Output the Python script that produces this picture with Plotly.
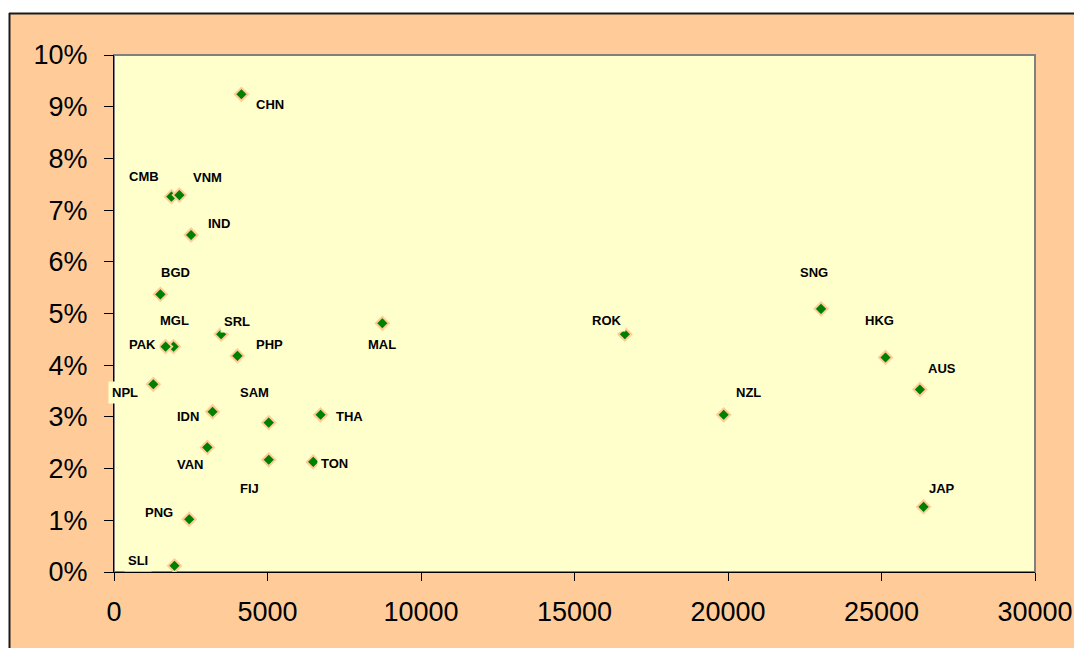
import plotly.graph_objects as go

# ---- data ----
countries = ["CHN", "CMB", "VNM", "IND", "BGD", "MGL", "PAK", "SRL", "PHP", "MAL",
             "NPL", "IDN", "SAM", "THA", "VAN", "FIJ", "TON", "PNG", "SLI",
             "ROK", "SNG", "HKG", "AUS", "NZL", "JAP"]
gdp_per_capita = [4150, 1870, 2130, 2510, 1510, 1940, 1680, 3490, 4020, 8740,
                  1280, 3210, 5040, 6730, 3040, 5040, 6490, 2450, 1970,
                  16640, 23030, 25130, 26250, 19860, 26370]
growth_pct = [9.24, 7.26, 7.29, 6.52, 5.37, 4.36, 4.36, 4.60, 4.18, 4.81,
              3.63, 3.10, 2.89, 3.04, 2.41, 2.17, 2.13, 1.02, 0.12,
              4.60, 5.09, 4.15, 3.53, 3.04, 1.26]
x_ticks = [0, 5000, 10000, 15000, 20000, 25000, 30000]
y_ticks = [0, 1, 2, 3, 4, 5, 6, 7, 8, 9, 10]

# ---- label placement (pixel offsets from marker: dx right, dy down) ----
label_offsets = {
    "CHN": (29, 10), "CMB": (-27, -20), "VNM": (28, -18), "IND": (28, -11),
    "BGD": (15, -22), "MGL": (1, -26), "PAK": (-23, -2), "SRL": (16, -13),
    "PHP": (32, -11), "MAL": (0, 21), "NPL": (-28, 8), "IDN": (-25, 5),
    "SAM": (-14, -30), "THA": (29, 2), "VAN": (-17, 17), "FIJ": (-19, 29),
    "TON": (21, 2), "PNG": (-30, -7), "SLI": (-36, -5), "ROK": (-18, -14),
    "SNG": (-7, -36), "HKG": (-6, -37), "AUS": (22, -21), "NZL": (25, -22),
    "JAP": (18, -18),
}

W, H = 1082, 648
ML, MT = 106, 47
PW, PH = 921, 517
MR, MB = W - ML - PW, H - MT - PH
PEACH = "#FFCC99"
PLOTBG = "#FFFFCC"
FONT = "Liberation Sans, Arial, sans-serif"


def px_x(p):
    return (p - ML) / PW


def px_y(p):
    return (H - MB - p) / PH


fig = go.Figure()
fig.add_trace(go.Scatter(
    x=gdp_per_capita,
    y=[g / 100 for g in growth_pct],
    mode="markers",
    marker=dict(symbol="diamond", size=10, color="#008000",
                line=dict(color=PEACH, width=2)),
    cliponaxis=False,
    hoverinfo="skip",
))

annotations = []
for c, xv, gv in zip(countries, gdp_per_capita, growth_pct):
    dx, dy = label_offsets[c]
    annotations.append(dict(
        x=xv, y=gv / 100, xref="x", yref="y", text=c, showarrow=False,
        xshift=dx, yshift=-dy, bgcolor=PLOTBG, borderpad=3,
        font=dict(family=FONT, size=13, color="black", weight="bold"),
    ))

shapes = [
    # plot area with gray border
    dict(type="rect", xref="paper", yref="paper", x0=0, x1=1, y0=0, y1=1,
         line=dict(color="#808080", width=2), fillcolor=PLOTBG, layer="below"),
    # white page margin top / left
    dict(type="rect", xref="paper", yref="paper", x0=px_x(-5), x1=px_x(W + 5),
         y0=px_y(5), y1=px_y(-5), line=dict(width=0), fillcolor="white", layer="above"),
    dict(type="rect", xref="paper", yref="paper", x0=px_x(-5), x1=px_x(1),
         y0=px_y(H + 5), y1=px_y(-5), line=dict(width=0), fillcolor="white", layer="above"),
    # black chart frame
    dict(type="line", xref="paper", yref="paper", x0=px_x(1), x1=px_x(W + 5),
         y0=px_y(5.5), y1=px_y(5.5), line=dict(color="#1a1a1a", width=2), layer="above"),
    dict(type="line", xref="paper", yref="paper", x0=px_x(1.5), x1=px_x(1.5),
         y0=px_y(5), y1=px_y(H + 5), line=dict(color="#1a1a1a", width=2), layer="above"),
]

fig.update_layout(
    width=W, height=H,
    margin=dict(l=ML, r=MR, t=MT, b=MB, pad=0),
    paper_bgcolor=PEACH, plot_bgcolor=PLOTBG,
    showlegend=False,
    annotations=annotations,
    shapes=shapes,
    font=dict(family=FONT, color="black"),
)
fig.update_xaxes(
    range=[0, 30000], tickvals=x_ticks, ticktext=[str(v) for v in x_ticks],
    showgrid=False, zeroline=False, showline=True, linecolor="black", linewidth=1,
    ticks="outside", ticklen=8, tickcolor="black", tickfont=dict(size=27),
    ticklabelstandoff=8,
)
fig.update_yaxes(
    range=[0, 0.10], tickvals=[v / 100 for v in y_ticks], ticktext=[f"{v}%" for v in y_ticks],
    showgrid=False, zeroline=False, showline=True, linecolor="black", linewidth=1,
    ticks="outside", ticklen=9, tickcolor="black", tickfont=dict(size=27),
    ticklabelstandoff=11,
)

fig.write_html("out.html")
